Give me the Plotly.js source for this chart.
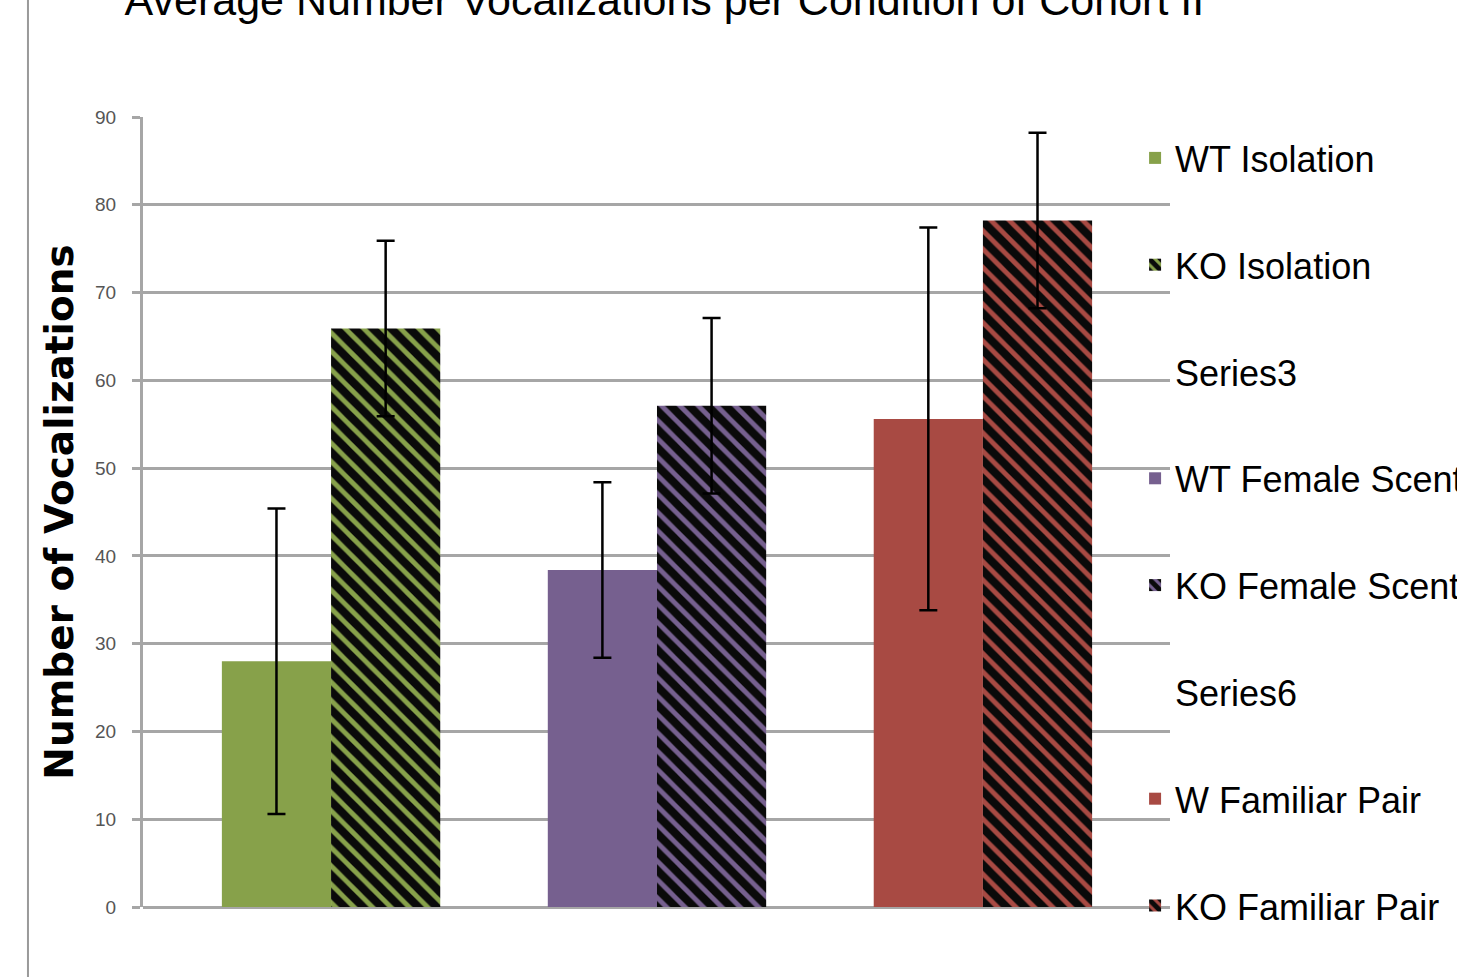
<!DOCTYPE html>
<html>
<head>
<meta charset="utf-8">
<script src="https://cdn.plot.ly/plotly-3.0.1.min.js"></script>
<style>html,body{margin:0;padding:0;background:#fff;}#chart{width:1457px;height:977px;}</style>
</head>
<body>
<div id="chart"></div>
<script>
// ---- data ----
const conditions = ['Isolation', 'Female Scent', 'Familiar Pair'];
const wtNames = ['WT Isolation', 'WT Female Scent', 'W Familiar Pair'];
const koNames = ['KO Isolation', 'KO Female Scent', 'KO Familiar Pair'];
const wtValues = [28.0, 38.4, 55.6];
const wtErrors = [17.4, 10.0, 21.8];
const koValues = [65.9, 57.1, 78.2];
const koErrors = [10.0, 10.0, 10.0];
const emptySeries = ['Series3', 'Series6'];
const colors = ['#87A14A', '#76608F', '#A84A43'];
const yTicks = [0, 10, 20, 30, 40, 50, 60, 70, 80, 90];

const baseFont = '"Liberation Sans", Arial, sans-serif';

const traces = [];
let grp = 0;
for (let i = 0; i < conditions.length; i++) {
  traces.push({
    type: 'bar', name: wtNames[i], x: [conditions[i]], y: [wtValues[i]],
    width: 0.335, offset: -0.335,
    marker: {color: colors[i], line: {width: 0}},
    error_y: {type: 'data', array: [wtErrors[i]], visible: true, color: '#000', thickness: 2.5, width: 9},
    legendgroup: 'g' + (grp++), hoverinfo: 'skip'
  });
  traces.push({
    type: 'bar', name: koNames[i], x: [conditions[i]], y: [koValues[i]],
    width: 0.335, offset: 0,
    marker: {color: colors[i], line: {width: 0},
      pattern: {shape: '\\', fgcolor: '#0a0a0a', bgcolor: colors[i], fillmode: 'replace', fgopacity: 1, size: 13, solidity: 0.62}},
    error_y: {type: 'data', array: [koErrors[i]], visible: true, color: '#000', thickness: 2.5, width: 9},
    legendgroup: 'g' + (grp++), hoverinfo: 'skip'
  });
  if (i < emptySeries.length) {
    traces.push({
      type: 'bar', name: emptySeries[i], x: [conditions[i]], y: [null],
      marker: {color: 'rgba(0,0,0,0)', line: {width: 0}},
      legendgroup: 'g' + (grp++), showlegend: true, hoverinfo: 'skip'
    });
  }
}

const layout = {
  width: 1457, height: 977,
  paper_bgcolor: '#ffffff', plot_bgcolor: '#ffffff',
  margin: {l: 143, r: 287, t: 117, b: 70, autoexpand: false},
  barmode: 'overlay',
  showlegend: true,
  title: {
    text: 'Average Number Vocalizations per Condition of Cohort II',
    font: {family: baseFont, size: 43, color: '#000'},
    xref: 'container', yref: 'container', x: 0.456, xanchor: 'center', y: 1.0, yanchor: 'middle'
  },
  xaxis: {
    type: 'category', categoryarray: conditions, range: [-0.577, 2.574],
    showticklabels: false, showgrid: false, zeroline: false, showline: false, ticks: ''
  },
  yaxis: {
    range: [0, 90], tickvals: yTicks, ticktext: yTicks.map(String),
    showgrid: true, gridcolor: '#a6a6a6', gridwidth: 3,
    zeroline: true, zerolinecolor: '#a6a6a6', zerolinewidth: 3,
    showline: true, linecolor: '#a6a6a6', linewidth: 3,
    ticks: 'outside', ticklen: 8, tickcolor: '#a6a6a6', tickwidth: 3,
    ticklabelstandoff: 12,
    tickfont: {family: baseFont, size: 19, color: '#555'},
    title: {text: 'Number of Vocalizations', standoff: 10,
      font: {family: '"DejaVu Sans", sans-serif', size: 39, color: '#000', weight: 'bold'}}
  },
  legend: {
    x: 0.966, xanchor: 'left', yref: 'container', y: 0.869, yanchor: 'top',
    bgcolor: 'rgba(0,0,0,0)', borderwidth: 0,
    font: {family: baseFont, size: 36, color: '#000'},
    traceorder: 'grouped', tracegroupgap: 57, maxheight: 1
  },
  shapes: [{type: 'line', xref: 'paper', yref: 'paper', x0: -0.112, x1: -0.112, y0: -0.1, y1: 1.2,
    line: {color: '#9a9a9a', width: 2}}]
};

Plotly.newPlot('chart', traces, layout, {staticPlot: true});
</script>
</body>
</html>
